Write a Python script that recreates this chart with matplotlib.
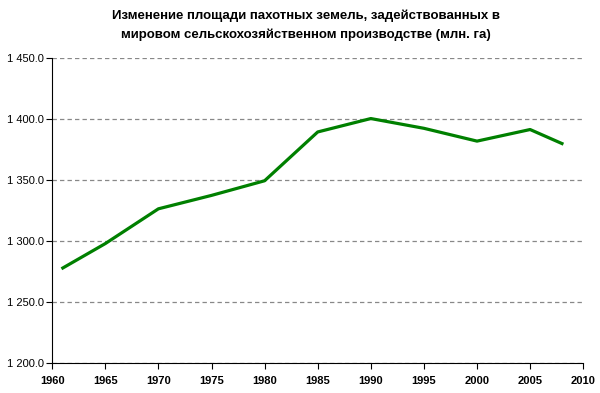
import matplotlib
matplotlib.use("Agg")
import matplotlib.pyplot as plt
from matplotlib.ticker import FuncFormatter, MultipleLocator

years = [1961, 1965, 1970, 1975, 1980, 1985, 1990, 1995, 2000, 2005, 2008]
area = [1278.0, 1298.0, 1326.5, 1337.5, 1349.5, 1389.5, 1400.5, 1392.5, 1382.0, 1391.5, 1380.0]

title = "Изменение площади пахотных земель, задействованных в\nмировом сельскохозяйственном производстве (млн. га)"

plt.rcParams["font.family"] = ["Liberation Sans", "DejaVu Sans"]

fig = plt.figure(figsize=(6.0, 3.93), dpi=100)
ax = fig.add_axes([0.087, 0.076, 0.885, 0.776])

ax.plot(years, area, color="#008000", linewidth=2.3, solid_joinstyle="round")

ax.set_xlim(1960, 2010)
ax.set_ylim(1200, 1450)
ax.xaxis.set_major_locator(MultipleLocator(5))
ax.yaxis.set_major_locator(MultipleLocator(50))
ax.yaxis.set_major_formatter(FuncFormatter(lambda v, p: f"{v:,.1f}".replace(",", " ")))

ax.grid(axis="y", color="#888888", linestyle=(0, (3.5, 2.5)), linewidth=0.9)
ax.spines["top"].set_visible(False)
ax.spines["right"].set_visible(False)
ax.tick_params(direction="out", length=4, width=0.8, labelsize=8)
ax.tick_params(axis="x", pad=5)
ax.tick_params(axis="y", pad=2)
for lab in ax.get_xticklabels():
    lab.set_fontweight("bold")

fig.text(0.51, 0.975, title, ha="center", va="top", fontsize=9.5,
         fontweight="bold", linespacing=1.65)

fig.savefig("out.png", dpi=100)
